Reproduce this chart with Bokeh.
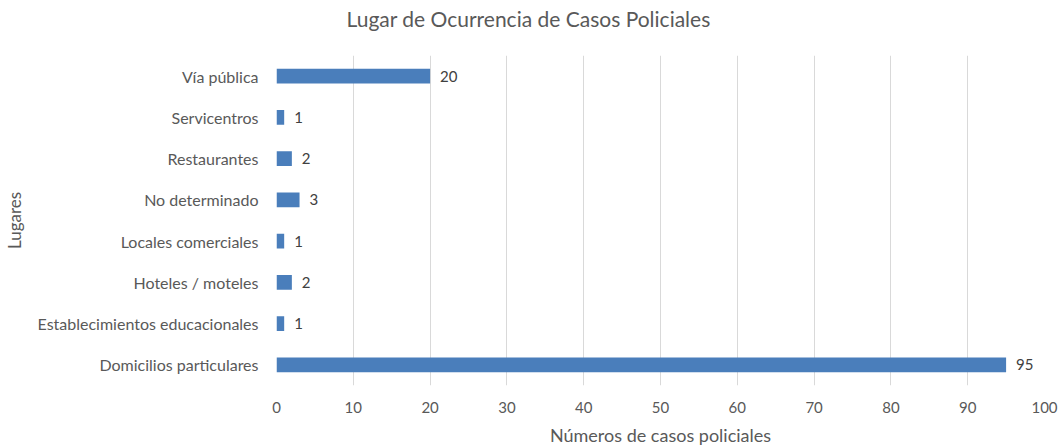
from bokeh.plotting import figure
from bokeh.models import Range1d, FactorRange, Title, ColumnDataSource
from bokeh.core.properties import value
from bokeh.embed import file_html
from bokeh.resources import INLINE

categories = ["Domicilios particulares", "Establecimientos educacionales", "Hoteles / moteles",
              "Locales comerciales", "No determinado", "Restaurantes", "Servicentros", "Vía pública"]
counts = [95, 1, 2, 1, 3, 2, 1, 20]
x_ticks = [0, 10, 20, 30, 40, 50, 60, 70, 80, 90, 100]
title_text = "Lugar de Ocurrencia de Casos Policiales"
x_label = "Números de casos policiales"
y_label = "Lugares"

FONT = "Lato"
GRAY = "#595959"

src = ColumnDataSource(dict(cat=categories, val=counts, lab=[str(v) for v in counts]))

p = figure(width=1058, height=445, output_backend="svg", toolbar_location=None,
           y_range=FactorRange(*categories), x_range=Range1d(0, 100),
           frame_width=768, frame_height=330,
           min_border_left=275, min_border_right=15, min_border_top=0, min_border_bottom=60)
p.outline_line_color = None
p.background_fill_color = "white"
p.title.text = ""

p.hbar(y="cat", right="val", left=0, height=0.36, source=src, color="#4A7EBB", line_color=None)
p.text(x="val", y="cat", text="lab", source=src, x_offset=10, text_baseline="middle",
       text_font=value(FONT), text_font_size="15px", text_color="#404040")

# spacer between the title and the plot area, then the title itself
p.add_layout(Title(text=" ", text_font_size="1px", standoff=15), "above")
p.add_layout(Title(text=title_text, align="left", offset=70, standoff=10, vertical_align="top",
                   text_font=FONT, text_font_size="21px", text_font_style="normal",
                   text_color=GRAY), "above")

p.xaxis.ticker = x_ticks
p.xaxis.axis_line_color = None
p.xaxis.major_tick_line_color = None
p.xaxis.minor_tick_line_color = None
p.xaxis.major_tick_out = 0
p.xaxis.major_label_standoff = 16
p.xaxis.major_label_text_font = FONT
p.xaxis.major_label_text_font_size = "15px"
p.xaxis.major_label_text_color = GRAY
p.xaxis.axis_label = x_label
p.xaxis.axis_label_standoff = 8
p.xaxis.axis_label_text_font = FONT
p.xaxis.axis_label_text_font_size = "18px"
p.xaxis.axis_label_text_font_style = "normal"
p.xaxis.axis_label_text_color = GRAY

p.yaxis.axis_line_color = None
p.yaxis.major_tick_line_color = None
p.yaxis.major_tick_out = 0
p.yaxis.major_label_standoff = 18
p.yaxis.major_label_text_font = FONT
p.yaxis.major_label_text_font_size = "16px"
p.yaxis.major_label_text_color = GRAY
p.yaxis.axis_label = y_label
p.yaxis.axis_label_standoff = 10
p.yaxis.axis_label_text_font = FONT
p.yaxis.axis_label_text_font_size = "17px"
p.yaxis.axis_label_text_font_style = "normal"
p.yaxis.axis_label_text_color = GRAY

p.xgrid.grid_line_color = "#D9D9D9"
p.ygrid.grid_line_color = None

open("out.html", "w").write(file_html(p, INLINE))
